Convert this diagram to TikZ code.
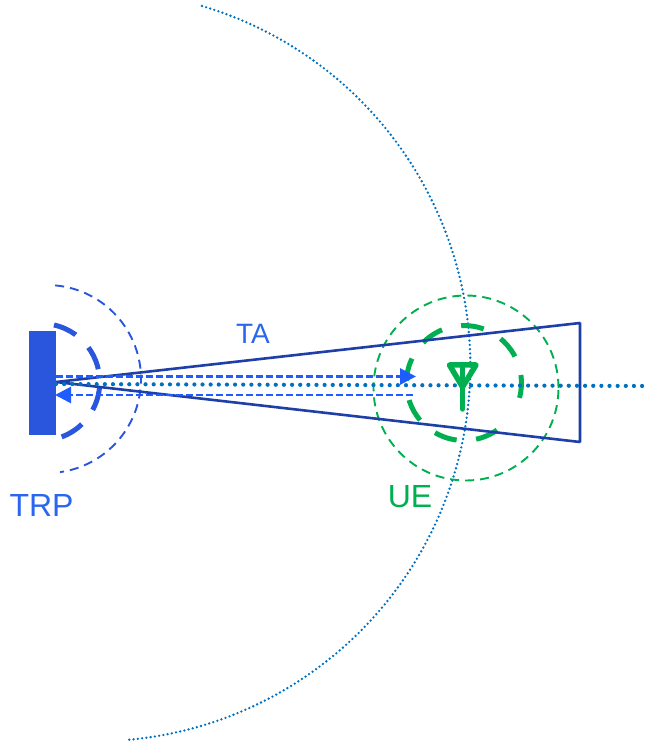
\documentclass[tikz,border=0pt]{standalone}
\usepackage{fontspec}
\setmainfont{Liberation Sans}
\usetikzlibrary{arrows.meta}
\definecolor{trpblue}{HTML}{2A56DD}
\definecolor{arrowblue}{HTML}{1F5CFF}
\definecolor{wedgeblue}{HTML}{1F3FA8}
\definecolor{dotblue}{HTML}{0070C0}
\definecolor{uegreen}{HTML}{00B050}
\definecolor{labelblue}{HTML}{2A66F0}
\tikzset{
  thinarc/.style={draw=trpblue,line width=1.9pt,dash pattern=on 9pt off 6pt},
  thickarc/.style={draw=trpblue,line width=5pt,dash pattern=on 24pt off 18pt},
  thingreen/.style={draw=uegreen,line width=1.9pt,dash pattern=on 9pt off 6pt},
  thickgreen/.style={draw=uegreen,line width=5pt,dash pattern=on 23pt off 19.6pt},
  bigdots/.style={draw=dotblue,line width=2.6pt,line cap=round,dash pattern=on 0pt off 4.3pt},
  raydots/.style={draw=dotblue,line width=4.2pt,line cap=round,dash pattern=on 0pt off 8.14pt},
  rtt/.style={draw=arrowblue,line width=2.8pt,dash pattern=on 7pt off 3pt,-{Triangle[length=16pt,width=16pt]}},
  wedge/.style={draw=wedgeblue,line width=2.6pt,line join=bevel},
  antenna/.style={draw=uegreen,line width=5.5pt,line cap=round,line join=round},
  lbl/.style={inner sep=0pt,anchor=center}
}
\begin{document}
\begin{tikzpicture}[x=1pt,y=1pt]
\useasboundingbox (0,0) rectangle (646,745);
% panel
\node[fill=trpblue,minimum width=27pt,minimum height=104pt,inner sep=0pt,anchor=center] (trp) at (42.5,362) {};
\coordinate (apex) at (56,363);
\coordinate (wa) at (580,422);
\coordinate (wb) at (580,303);
\coordinate (rayA) at (56,361);
\coordinate (rayB) at (646,359);
\coordinate (upA) at (56,368.5);
\coordinate (upB) at (416,368.5);
\coordinate (downA) at (413,350);
\coordinate (downB) at (55,350);
% big arc
\draw[bigdots] (202,739) arc[start angle=73.4,end angle=-85,radius=375.5];
% TRP arcs
\draw[thinarc] (55.2,459.6) arc[start angle=85,end angle=-82,radius=94];
\draw[thickarc] (54,420) arc[start angle=77.4,end angle=-70.7,radius=58.5];
% UE circles
\draw[thingreen] (558.5,357) arc[start angle=0,end angle=360,radius=92.5];
\draw[thickgreen] (519.5,347.1) arc[start angle=-15,end angle=322,radius=57.5];
% wedge
\draw[wedge] (wa) -- (wb) -- (apex) -- cycle;
% rays
\draw[rtt] (upA) -- (upB);
\draw[rtt] (downA) -- (downB);
\draw[raydots] (rayA) -- (rayB);
% antenna
\coordinate (antTL) at (449.5,380);
\coordinate (antTR) at (476,380);
\coordinate (antB) at (462.5,358);
\coordinate (antTop) at (462.5,380);
\coordinate (antFoot) at (462.5,336);
\draw[antenna] (antTL) -- (antTR) -- (antB) -- cycle;
\draw[antenna] (antTop) -- (antFoot);
% labels
\node[lbl,text=labelblue,font=\fontsize{28}{32}\selectfont] (ta) at (253,411) {TA};
\node[lbl,text=labelblue,font=\fontsize{32}{36}\selectfont] (trplabel) at (41.5,240) {TRP};
\node[lbl,text=uegreen,font=\fontsize{32}{36}\selectfont] (uelabel) at (410,248) {UE};
\end{tikzpicture}
\end{document}
